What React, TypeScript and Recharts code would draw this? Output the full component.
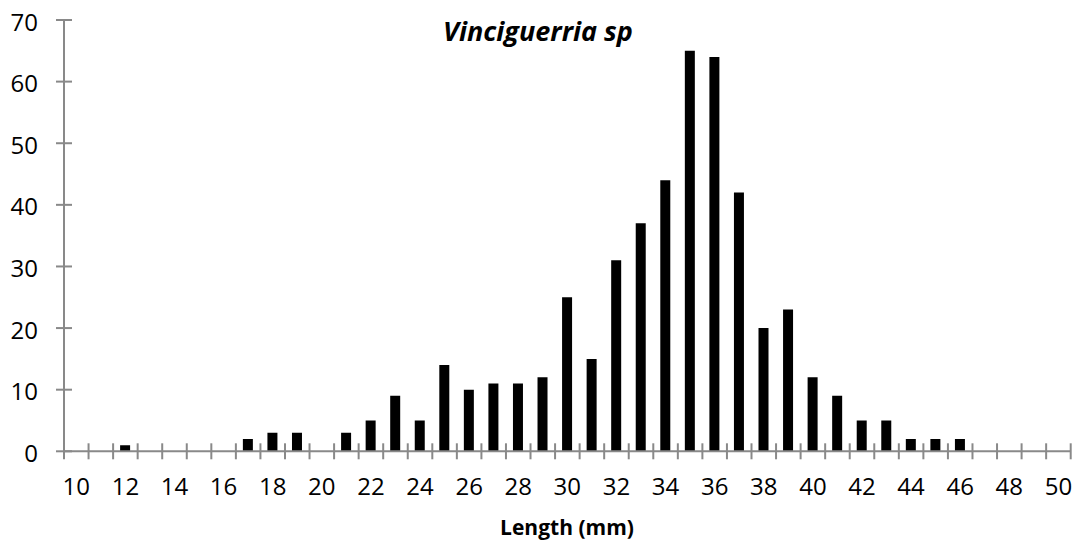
import React from "react";
import { BarChart, Bar, XAxis, YAxis } from "recharts";

// Length-frequency of Vinciguerria sp
const lengths: number[] = [
  10, 11, 12, 13, 14, 15, 16, 17, 18, 19, 20, 21, 22, 23, 24, 25, 26, 27, 28, 29,
  30, 31, 32, 33, 34, 35, 36, 37, 38, 39, 40, 41, 42, 43, 44, 45, 46, 47, 48, 49, 50,
];
const counts: number[] = [
  0, 0, 1, 0, 0, 0, 0, 2, 3, 3, 0, 3, 5, 9, 5, 14, 10, 11, 11, 12,
  25, 15, 31, 37, 44, 65, 64, 42, 20, 23, 12, 9, 5, 5, 2, 2, 2, 0, 0, 0, 0,
];
const yTicks: number[] = [0, 10, 20, 30, 40, 50, 60, 70];

const data = lengths.map((len, i) => ({ len, count: counts[i] }));

const W = 1081;
const H = 549;
const PLOT_LEFT = 64;
const PLOT_RIGHT = 1070.7;
const PLOT_TOP = 20;
const PLOT_BOTTOM = 451.3;
const X_AXIS_H = 90;
const BAND = (PLOT_RIGHT - PLOT_LEFT) / lengths.length;
const AXIS_COLOR = "#898989";
const FONT = "'Open Sans', sans-serif";

const XTick = (props: any) => {
  const { x, payload, index } = props;
  const left = x - BAND / 2;
  const isLast = index === lengths.length - 1;
  const v = Number(payload.value);
  return (
    <g>
      <line x1={left} x2={left} y1={PLOT_BOTTOM - 8} y2={PLOT_BOTTOM + 8} stroke={AXIS_COLOR} strokeWidth={2} />
      {isLast && (
        <line x1={x + BAND / 2} x2={x + BAND / 2} y1={PLOT_BOTTOM - 8} y2={PLOT_BOTTOM + 8} stroke={AXIS_COLOR} strokeWidth={2} />
      )}
      {v % 2 === 0 && (
        <text x={x} y={PLOT_BOTTOM + 34} textAnchor="middle" dominantBaseline="central" fontFamily={FONT} fontSize={24} fill="#000">
          {v}
        </text>
      )}
    </g>
  );
};

const YTick = (props: any) => {
  const { y, payload } = props;
  return (
    <g>
      <line x1={PLOT_LEFT - 8} x2={PLOT_LEFT + 8} y1={y} y2={y} stroke={AXIS_COLOR} strokeWidth={2} />
      <text x={38} y={y + 1} textAnchor="end" dominantBaseline="central" fontFamily={FONT} fontSize={24} fill="#000">
        {payload.value}
      </text>
    </g>
  );
};

const XLabel = () => (
  <text x={567} y={527} textAnchor="middle" dominantBaseline="central" fontFamily={FONT} fontSize={21} fontWeight="bold" fill="#000">
    Length (mm)
  </text>
);

export default function App() {
  return (
    <div style={{ position: "relative", width: W, height: H, margin: -8, background: "#fff" }}>
      <BarChart
        width={W}
        height={H}
        data={data}
        margin={{ top: PLOT_TOP, right: W - PLOT_RIGHT, bottom: H - PLOT_BOTTOM - X_AXIS_H, left: 0 }}
        barSize={10}
      >
        <XAxis
          dataKey="len"
          interval={0}
          tickLine={false}
          axisLine={{ stroke: AXIS_COLOR, strokeWidth: 2 }}
          tick={<XTick />}
          height={X_AXIS_H}
          label={<XLabel />}
        />
        <YAxis
          width={PLOT_LEFT}
          domain={[0, 70]}
          ticks={yTicks}
          tickLine={false}
          axisLine={{ stroke: AXIS_COLOR, strokeWidth: 2 }}
          tick={<YTick />}
          allowDataOverflow
        />
        <Bar dataKey="count" fill="#000" isAnimationActive={false} />
      </BarChart>
      <div
        style={{
          position: "absolute",
          left: 538 - 200,
          width: 400,
          top: 14,
          textAlign: "center",
          fontFamily: FONT,
          fontSize: 27,
          fontWeight: "bold",
          fontStyle: "italic",
          color: "#000",
          lineHeight: "34px",
        }}
      >
        Vinciguerria sp
      </div>
    </div>
  );
}
